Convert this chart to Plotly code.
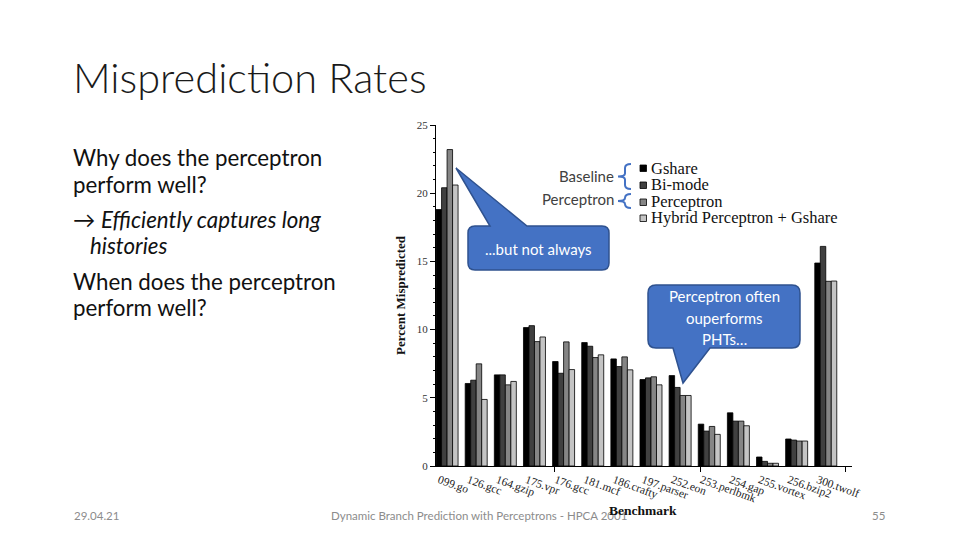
import plotly.graph_objects as go

benchmarks = ["099.go", "126.gcc", "164.gzip", "175.vpr", "176.gcc", "181.mcf", "186.crafty",
              "197.parser", "252.eon", "253.perlbmk", "254.gap", "255.vortex", "256.bzip2", "300.twolf"]
gshare = [18.8, 6.05, 6.68, 10.15, 7.66, 9.05, 7.85, 6.34, 6.63, 3.07, 3.9, 0.66, 1.98, 14.88]
bimode = [20.4, 6.29, 6.68, 10.29, 6.8, 8.78, 7.29, 6.46, 5.76, 2.56, 3.29, 0.34, 1.9, 16.1]
perceptron = [23.2, 7.49, 5.95, 9.12, 9.1, 7.95, 8.0, 6.54, 5.17, 2.9, 3.29, 0.2, 1.83, 13.54]
hybrid = [20.6, 4.88, 6.2, 9.46, 7.07, 8.15, 7.05, 5.95, 5.17, 2.32, 2.95, 0.2, 1.83, 13.56]

series_names = ["Gshare", "Bi-mode", "Perceptron", "Hybrid Perceptron + Gshare"]
series_values = [gshare, bimode, perceptron, hybrid]
series_colors = ["#000000", "#404040", "#858585", "#c4c4c4"]
y_ticks = [0, 5, 10, 15, 20, 25]

W, H = 960, 540


def X(px):
    return px / W


def Y(py):
    return 1 - py / H


SERIF = "Liberation Serif"
SANS = "Lato"

fig = go.Figure()
for name, vals, col in zip(series_names, series_values, series_colors):
    fig.add_trace(go.Bar(
        x=benchmarks, y=vals, name=name,
        marker=dict(color=col, line=dict(color="#000000", width=0.8)),
    ))

# invisible overlay axis used only for the sparse x-axis tick marks of the original figure
fig.add_trace(go.Scatter(x=[None], y=[None], xaxis="x2", yaxis="y", showlegend=False, hoverinfo="skip"))

fig.update_layout(
    width=W, height=H,
    margin=dict(l=0, r=0, t=0, b=0, autoexpand=False),
    paper_bgcolor="white", plot_bgcolor="white",
    barmode="group", bargap=0.245, bargroupgap=0,
    showlegend=False,
    xaxis=dict(
        domain=[X(436), X(852)],
        range=[-0.38, 13.9],
        automargin=False,
        showgrid=False, zeroline=False,
        showline=True, linecolor="#000000", linewidth=1,
        ticks="", tickangle=20,
        tickfont=dict(family=SERIF, size=11.5, color="#222222"),
        ticklabelshift=-8, ticklabelstandoff=2,
    ),
    xaxis2=dict(
        domain=[X(436), X(852)], range=[-0.38, 13.9],
        overlaying="x", anchor="y", automargin=False,
        tickvals=[3.7, 8.7, 13.68], ticks="outside", ticklen=5, tickcolor="#000000",
        showticklabels=False, showgrid=False, zeroline=False, showline=False,
    ),
    yaxis=dict(
        domain=[Y(466), Y(125)],
        range=[0, 25],
        automargin=False,
        tickvals=y_ticks,
        showgrid=False, zeroline=False,
        showline=True, linecolor="#000000", linewidth=1,
        ticks="outside", ticklen=5, tickcolor="#000000",
        minor=dict(dtick=1, ticks="outside", ticklen=2, tickcolor="#000000"),
        tickfont=dict(family=SERIF, size=11, color="#333333"),
        title=dict(text="<b>Percent Mispredicted</b>", font=dict(family=SERIF, size=13, color="#111111"), standoff=8),
    ),
)

annotations = []


def txt(text, px, py, size, color="#111111", family=SANS, xanchor="left", weight="normal"):
    annotations.append(dict(
        text=text, x=X(px), y=Y(py), xref="paper", yref="paper",
        xanchor=xanchor, yanchor="middle", showarrow=False,
        font=dict(family=family, size=size, color=color, weight=weight),
    ))


# slide title and body
txt("Misprediction Rates", 71, 77, 41.5, color="#1a1a1a", weight=300)
txt("Why does the perceptron", 71, 158, 22.3)
txt("perform well?", 71, 184, 22.3)
txt("→ <i>Efficiently captures long</i>", 71, 219, 22.3)
txt("<i>histories</i>", 88, 245, 22.3)
txt("When does the perceptron", 71, 281, 22.3)
txt("perform well?", 71, 307, 22.3)

# footer
txt("29.04.21", 72, 515, 11.5, color="#8c8c8c")
txt("Dynamic Branch Prediction with Perceptrons - HPCA 2001", 479, 515, 11.5, color="#8c8c8c", xanchor="center")
txt("55", 887, 515, 11.5, color="#8c8c8c", xanchor="right")

# x axis title
txt("<b>Benchmark</b>", 643, 510, 13.5, color="#111111", family=SERIF, xanchor="center")

# legend (drawn as text + swatches to match the compact original)
legend_rows = [168, 185, 202, 218]
for name, col, yy in zip(series_names, series_colors, legend_rows):
    txt(name, 649, yy, 16.5, color="#111111", family=SERIF)

# brace labels
txt("Baseline", 616, 176, 15, color="#404040", xanchor="right")
txt("Perceptron", 616, 199, 15, color="#404040", xanchor="right")

# callout texts
txt("...but not always", 538, 249, 15, color="#ffffff", xanchor="center")
txt("Perceptron often", 724, 296, 15, color="#ffffff", xanchor="center")
txt("ouperforms", 724, 318, 15, color="#ffffff", xanchor="center")
txt("PHTs…", 724, 339, 15, color="#ffffff", xanchor="center")

fig.update_layout(annotations=annotations)


def P(px, py):
    return f"{X(px):.5f},{Y(py):.5f}"


def callout(x0, y0, x1, y1, r, wedge, side):
    (a, b), (tx, ty) = wedge
    parts = [f"M{P(x0 + r, y0)}"]
    if side == "top":
        parts += [f"L{P(a, y0)}", f"L{P(tx, ty)}", f"L{P(b, y0)}"]
    parts += [f"L{P(x1 - r, y0)}", f"Q{P(x1, y0)} {P(x1, y0 + r)}",
              f"L{P(x1, y1 - r)}", f"Q{P(x1, y1)} {P(x1 - r, y1)}"]
    if side == "bottom":
        parts += [f"L{P(a, y1)}", f"L{P(tx, ty)}", f"L{P(b, y1)}"]
    parts += [f"L{P(x0 + r, y1)}", f"Q{P(x0, y1)} {P(x0, y1 - r)}",
              f"L{P(x0, y0 + r)}", f"Q{P(x0, y0)} {P(x0 + r, y0)}", "Z"]
    return " ".join(parts)


def brace(x, ytop, ybot, xmid):
    ym = (ytop + ybot) / 2
    xi = x - 6
    return (f"M{P(x, ytop)} Q{P(xi, ytop)} {P(xi, ytop + 4)} L{P(xi, ym - 3)} "
            f"Q{P(xi, ym)} {P(xmid, ym)} Q{P(xi, ym)} {P(xi, ym + 3)} "
            f"L{P(xi, ybot - 4)} Q{P(xi, ybot)} {P(x, ybot)}")


shapes = [
    dict(type="path", xref="paper", yref="paper",
         path=callout(468, 226, 609, 270, 7, ((490, 527), (456, 168)), "top"),
         fillcolor="#4472C4", line=dict(color="#2F528F", width=1.5), layer="above"),
    dict(type="path", xref="paper", yref="paper",
         path=callout(648, 285, 800, 348, 8, ((710, 673), (683, 383)), "bottom"),
         fillcolor="#4472C4", line=dict(color="#2F528F", width=1.5), layer="above"),
    dict(type="path", xref="paper", yref="paper", path=brace(631, 164, 189, 618),
         line=dict(color="#4472C4", width=2)),
    dict(type="path", xref="paper", yref="paper", path=brace(631, 194, 208, 618),
         line=dict(color="#4472C4", width=2)),
]
for col, yy in zip(series_colors, legend_rows):
    shapes.append(dict(type="rect", xref="paper", yref="paper",
                       x0=X(640), x1=X(646.5), y0=Y(yy - 3), y1=Y(yy + 3.5),
                       fillcolor=col, line=dict(color="#000000", width=0.8)))
fig.update_layout(shapes=shapes)

fig.write_html("out.html", config={"displayModeBar": False},
               post_script="document.body.style.margin='0';")
